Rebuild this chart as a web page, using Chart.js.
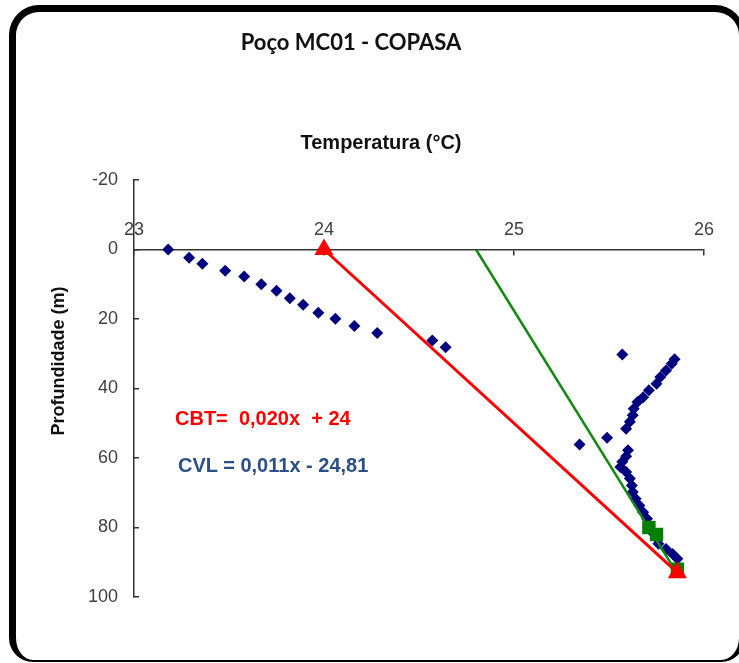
<!DOCTYPE html>
<html lang="pt">
<head>
  <meta charset="UTF-8" />
  <title>Poço MC01 - COPASA</title>
  <script src="https://cdn.jsdelivr.net/npm/chart.js"></script>
  <style>
    html, body { margin: 0; padding: 0; background: #fff; }
    .page {
      position: relative;
      width: 739px;
      height: 663px;
      overflow: hidden;
      background: #fff;
    }
    .frame {
      position: absolute;
      left: 9px;
      top: 5px;
      width: 736px;
      height: 657px;
      box-sizing: border-box;
      border: solid #000;
      border-width: 7px 6px 2px 7px;
      border-radius: 30px 30px 24px 24px;
    }
    #chart { position: absolute; left: 0; top: 0; }
    .txt {
      position: absolute;
      font-family: 'Liberation Sans', Arial, sans-serif;
      font-weight: bold;
      white-space: pre;
      transform: translate(-50%, -50%);
      line-height: 1.15;
    }
    .title { left: 351px; top: 42px; font-family: Lato, 'Open Sans', sans-serif; font-size: 22px; color: #111; }
    .xtitle { left: 381px; top: 142px; font-size: 20px; color: #111; }
    .ytitle { left: 58px; top: 361px; font-size: 18px; color: #111; transform: translate(-50%, -50%) rotate(-90deg); }
    .eq { transform: translate(0, -50%); font-size: 20px; }
    .cbt { left: 175px; top: 418px; color: #ff0000; }
    .cvl { left: 178px; top: 465px; color: #2b5088; }
  </style>
</head>
<body>
  <div class="page">
    <canvas id="chart" width="739" height="663"></canvas>
    <div class="frame"></div>
    <div class="txt title">Poço MC01 - COPASA</div>
    <div class="txt xtitle">Temperatura (°C)</div>
    <div class="txt ytitle">Profundidade (m)</div>
    <div class="txt eq cbt">CBT=  0,020x  + 24</div>
    <div class="txt eq cvl">CVL = 0,011x - 24,81</div>
  </div>

  <script>
    // measured profile (temperature in °C, depth in m)
    const poçoTemp = [
      23.18, 23.29, 23.36, 23.48, 23.58, 23.67, 23.75, 23.82, 23.89, 23.97,
      24.06, 24.16, 24.28, 24.57, 24.64,
      25.57, 25.845, 25.83, 25.80, 25.77, 25.75, 25.71, 25.68, 25.65, 25.63,
      25.625, 25.61, 25.59, 25.49, 25.345, 25.60, 25.59, 25.57, 25.56, 25.59,
      25.61, 25.62, 25.625, 25.64, 25.66, 25.68, 25.70, 25.71, 25.73, 25.75,
      25.76, 25.80, 25.835, 25.86
    ];
    const poçoDepth = [
      0, 2.4, 4.1, 6.1, 7.8, 10.0, 11.9, 14.0, 15.9, 18.2,
      19.9, 22.0, 24.0, 26.2, 28.1,
      30.2, 31.6, 32.9, 34.8, 36.7, 38.6, 40.5, 42.5, 43.9, 45.8,
      47.7, 49.6, 51.6, 54.2, 56.1, 57.8, 59.5, 61.1, 62.6, 64.0,
      65.9, 67.9, 69.8, 71.7, 73.7, 75.6, 77.5, 79.5, 81.5, 83.0,
      84.7, 86.2, 87.6, 89.0
    ];

    // CBT line (red triangles)
    const cbtTemp = [24.0, 25.86];
    const cbtDepth = [0, 93];

    // CVL trend line and its points (green)
    const cvlTemp = [24.80, 25.85];
    const cvlDepth = [0, 92.5];
    const cvlPointTemp = [25.71, 25.75, 25.86];
    const cvlPointDepth = [80, 82, 92];

    const xTicks = [23, 24, 25, 26];
    const yTicks = [-20, 0, 20, 40, 60, 80, 100];

    const toPoints = (xs, ys) => xs.map((x, i) => ({ x: x, y: ys[i] }));

    Chart.defaults.font.family = "'Liberation Sans', Arial, sans-serif";

    new Chart(document.getElementById('chart').getContext('2d'), {
      type: 'scatter',
      data: {
        datasets: [
          {
            label: 'CBT',
            data: toPoints(cbtTemp, cbtDepth),
            showLine: true,
            borderColor: '#ff0000',
            borderWidth: 3,
            backgroundColor: '#ff0000',
            pointStyle: 'triangle',
            pointRadius: 11,
            pointBorderWidth: 0
          },
          {
            label: 'CVL pontos',
            data: toPoints(cvlPointTemp, cvlPointDepth),
            showLine: false,
            backgroundColor: '#008000',
            borderColor: '#008000',
            pointStyle: 'rect',
            pointRadius: 9.5,
            pointBorderWidth: 0
          },
          {
            label: 'CVL',
            data: toPoints(cvlTemp, cvlDepth),
            showLine: true,
            borderColor: '#128a12',
            borderWidth: 2.5,
            pointRadius: 0
          },
          {
            label: 'Poço MC01',
            data: toPoints(poçoTemp, poçoDepth),
            showLine: false,
            backgroundColor: '#00007f',
            borderColor: '#00007f',
            pointStyle: 'rectRot',
            pointRadius: 6,
            pointBorderWidth: 0
          }
        ]
      },
      options: {
        responsive: false,
        animation: false,
        layout: { padding: { left: 40, top: 180, right: 35, bottom: 66 } },
        plugins: {
          legend: { display: false },
          tooltip: { enabled: false }
        },
        scales: {
          x: {
            type: 'linear',
            min: 23,
            max: 26,
            position: { y: 0 },
            afterBuildTicks: s => { s.ticks = xTicks.map(v => ({ value: v })); },
            grid: { drawOnChartArea: false, tickLength: 5, color: '#333', lineWidth: 1.5 },
            border: { color: '#333', width: 1.5 },
            ticks: { padding: -35, maxRotation: 0, autoSkip: false, color: '#404040', font: { size: 18 } }
          },
          y: {
            type: 'linear',
            reverse: true,
            min: -20,
            max: 100,
            afterBuildTicks: s => { s.ticks = yTicks.map(v => ({ value: v })); },
            afterFit: s => { s.width = 94; },
            grid: { drawOnChartArea: false, tickLength: -5, color: '#333', lineWidth: 1.5 },
            border: { color: '#333', width: 1.5 },
            ticks: { padding: 21, autoSkip: false, color: '#404040', font: { size: 18 } }
          }
        }
      }
    });
  </script>
</body>
</html>
